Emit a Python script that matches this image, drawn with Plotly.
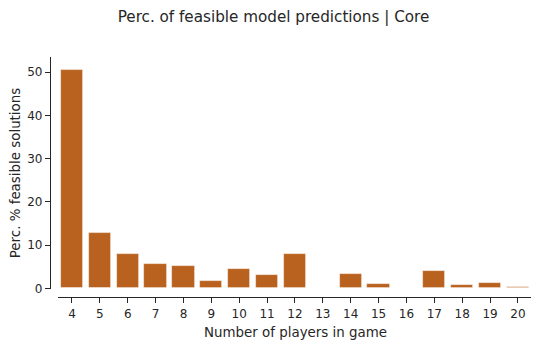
import plotly.graph_objects as go

players = list(range(4, 21))
perc_feasible = [50.6, 12.9, 7.9, 5.7, 5.2, 1.8, 4.5, 3.0, 8.0, 0.0,
                 3.2, 1.0, 0.15, 4.0, 0.7, 1.2, 0.4]

BAR = '#B9621F'
INK = '#262626'
FONT = 'DejaVu Sans'

fig = go.Figure()

fig.add_trace(go.Bar(
    x=players, y=perc_feasible,
    width=0.8,
    marker=dict(color=BAR, line=dict(color='rgba(255,255,255,0.6)', width=0.8)),
    showlegend=False
))

# page body has an 8px margin, so the figure is 8px smaller and shifted
fig.update_layout(
    width=531, height=336,
    margin=dict(l=42, r=6, t=49, b=47),
    paper_bgcolor='white',
    plot_bgcolor='white',
    font=dict(family=FONT, size=12, color=INK),
    title=dict(text='Perc. of feasible model predictions | Core',
               x=0.5, xanchor='center', y=1 - 3 / 336, yanchor='top',
               pad=dict(t=0, b=0),
               font=dict(size=15.2, color=INK)),
    bargap=0,
    xaxis=dict(
        domain=[8 / 483, 1],
        anchor='free', position=0,
        range=[3.5, 20.54],
        tickmode='array', tickvals=players,
        ticks='outside', ticklen=5, tickwidth=1.2, tickcolor=INK,
        showline=True, linecolor=INK, linewidth=1.2,
        showgrid=False, zeroline=False,
        automargin=False,
        tickfont=dict(size=12, color=INK),
        title=dict(text='Number of players in game', standoff=8,
                   font=dict(size=13.4, color=INK)),
    ),
    yaxis=dict(
        domain=[8 / 240, 1],
        anchor='free', position=0,
        range=[-0.16, 53.54],
        tickvals=[0, 10, 20, 30, 40, 50],
        ticks='outside', ticklen=5, tickwidth=1.2, tickcolor=INK,
        showline=True, linecolor=INK, linewidth=1.2,
        showgrid=False, zeroline=False,
        automargin=False,
        tickfont=dict(size=12, color=INK),
        title=dict(text='Perc. % feasible solutions', standoff=11,
                   font=dict(size=13.4, color=INK)),
    ),
)

fig.write_html("out.html")
